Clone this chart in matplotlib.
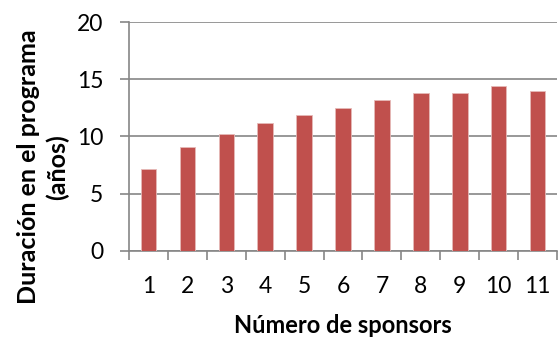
import numpy as np
import matplotlib.pyplot as plt

# Data
sponsors = [1, 2, 3, 4, 5, 6, 7, 8, 9, 10, 11]
duracion = [7.15, 9.05, 10.2, 11.15, 11.9, 12.5, 13.2, 13.8, 13.8, 14.45, 14.0]
y_ticks = [0, 5, 10, 15, 20]

plt.rcParams['font.family'] = ['Lato', 'DejaVu Sans']

fig = plt.figure(figsize=(5.59, 3.39), dpi=100)
ax = fig.add_axes([0.2308, 0.2596, 0.7656, 0.6755])

grid_col = '#868686'

ax.bar(sponsors, duracion, width=0.4, color='#C0504D', edgecolor='#E6B9B8',
       linewidth=0.6, zorder=3)

ax.set_xlim(0.5, 11.5)
ax.set_ylim(0, 20)
ax.set_yticks(y_ticks)
ax.set_xticks(sponsors)
ax.set_xticks(np.arange(0.5, 12, 1), minor=True)

ax.yaxis.grid(True, color=grid_col, linewidth=1.2, zorder=0)
ax.set_axisbelow(True)

for s in ['top', 'right']:
    ax.spines[s].set_visible(False)
for s in ['left', 'bottom']:
    ax.spines[s].set_color(grid_col)
    ax.spines[s].set_linewidth(1.2)

ax.tick_params(axis='y', length=6.5, width=1.2, color=grid_col, labelsize=16.5, pad=12)
ax.tick_params(axis='x', which='major', length=0, labelsize=16.5, pad=18)
ax.tick_params(axis='x', which='minor', length=6.5, width=1.2, color=grid_col)

ax.set_xlabel('Número de sponsors', fontsize=17, fontweight='bold', labelpad=12)
ax.set_ylabel('Duración en el programa\n(años)', fontsize=18, fontweight='bold',
              linespacing=1.3)
ax.yaxis.set_label_coords(-0.14, 0.367)

fig.savefig('out.png', dpi=100)
